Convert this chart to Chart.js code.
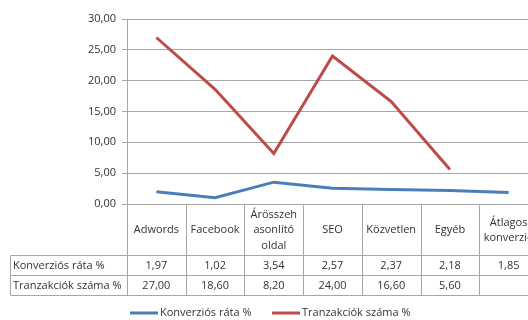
<!DOCTYPE html>
<html>
<head>
<meta charset="utf-8">
<script src="https://cdn.jsdelivr.net/npm/chart.js@4/dist/chart.umd.min.js"></script>
<style>
html,body{margin:0;padding:0;background:#fff;overflow:hidden;}
#wrap{width:560px;height:320px;}
</style>
</head>
<body>
<div id="wrap"><canvas id="c" width="560" height="320"></canvas></div>
<script>
const categories = ["Adwords", "Facebook", ["Árösszeh", "asonlító", "oldal"], "SEO", "Közvetlen", "Egyéb", ["Átlagos", "konverzió"]];
const seriesNames = ["Konverziós ráta %", "Tranzakciók száma %"];
const konverziosRata = [1.97, 1.02, 3.54, 2.57, 2.37, 2.18, 1.85];
const tranzakciokSzama = [27.00, 18.60, 8.20, 24.00, 16.60, 5.60, null];
const yTicks = [0, 5, 10, 15, 20, 25, 30];

const BLUE = '#4a7ebb';
const RED = '#be4b48';
const GRID = '#a6a6a6';
const TEXT = '#333333';
const FONT = '"Open Sans", "Noto Sans", sans-serif';
const FS = 11;

const fmt = v => v == null ? '' : v.toFixed(2).replace('.', ',');

const tablePlugin = {
  id: 'dataTable',
  afterDraw(chart) {
    const ctx = chart.ctx;
    const ca = chart.chartArea;
    const x = chart.scales.x;
    const n = categories.length;
    const w = (ca.right - ca.left) / n;
    const top = ca.bottom;
    const r1 = 255.5, r2 = 275.5, r3 = 295.5;
    const leftEdge = 10.5;
    ctx.save();
    ctx.strokeStyle = GRID;
    ctx.lineWidth = 1;
    ctx.beginPath();
    for (let i = 0; i <= n; i++) {
      const xx = Math.round(ca.left + i * w) + 0.5;
      ctx.moveTo(xx, top);
      ctx.lineTo(xx, r3);
    }
    [r1, r2, r3].forEach(y => { ctx.moveTo(leftEdge, y); ctx.lineTo(ca.right, y); });
    ctx.moveTo(leftEdge, r1); ctx.lineTo(leftEdge, r3);
    ctx.stroke();

    ctx.fillStyle = TEXT;
    ctx.font = FS + 'px ' + FONT;
    ctx.textBaseline = 'middle';
    ctx.textAlign = 'center';
    const headMid = (top + r1) / 2 + 0.5;
    const lh = 15.5;
    categories.forEach((c, i) => {
      const cx = x.getPixelForValue(i);
      const lines = Array.isArray(c) ? c : [c];
      const y0 = headMid - (lines.length - 1) * lh / 2;
      lines.forEach((t, k) => ctx.fillText(t, cx, y0 + k * lh));
      ctx.fillText(fmt(konverziosRata[i]), cx, (r1 + r2) / 2 + 0.5);
      ctx.fillText(fmt(tranzakciokSzama[i]), cx, (r2 + r3) / 2 + 0.5);
    });
    ctx.textAlign = 'left';
    ctx.fillText(seriesNames[0], 13, (r1 + r2) / 2 + 0.5);
    ctx.fillText(seriesNames[1], 13, (r2 + r3) / 2 + 0.5);

    // legend
    const ly = 313;
    const items = [[seriesNames[0], BLUE, 130], [seriesNames[1], RED, 272]];
    items.forEach(([t, col, lx]) => {
      ctx.strokeStyle = col;
      ctx.lineWidth = 3;
      ctx.beginPath();
      ctx.moveTo(lx, ly);
      ctx.lineTo(lx + 28, ly);
      ctx.stroke();
      ctx.fillStyle = TEXT;
      ctx.fillText(t, lx + 30, ly);
    });
    ctx.restore();
  }
};

new Chart(document.getElementById('c'), {
  type: 'line',
  data: {
    labels: categories,
    datasets: [
      { label: seriesNames[0], data: konverziosRata, borderColor: BLUE, backgroundColor: BLUE, borderWidth: 3, pointRadius: 0, tension: 0 },
      { label: seriesNames[1], data: tranzakciokSzama, borderColor: RED, backgroundColor: RED, borderWidth: 3, pointRadius: 0, tension: 0, spanGaps: false }
    ]
  },
  options: {
    responsive: false,
    animation: false,
    events: [],
    layout: { padding: { top: 19, right: 22, bottom: 116, left: 0 } },
    plugins: { legend: { display: false }, tooltip: { enabled: false }, title: { display: false } },
    scales: {
      x: { type: 'category', display: false, offset: true },
      y: {
        min: yTicks[0], max: yTicks[yTicks.length - 1],
        afterFit(s) { s.width = 127; },
        afterBuildTicks(s) { s.ticks = yTicks.map(v => ({ value: v })); },
        ticks: { callback: v => fmt(v), color: TEXT, font: { family: FONT, size: FS }, padding: 6 },
        grid: { color: GRID, lineWidth: 1, tickLength: 5, drawTicks: true },
        border: { display: true, color: GRID, width: 1 }
      }
    }
  },
  plugins: [tablePlugin]
});
</script>
</body>
</html>
